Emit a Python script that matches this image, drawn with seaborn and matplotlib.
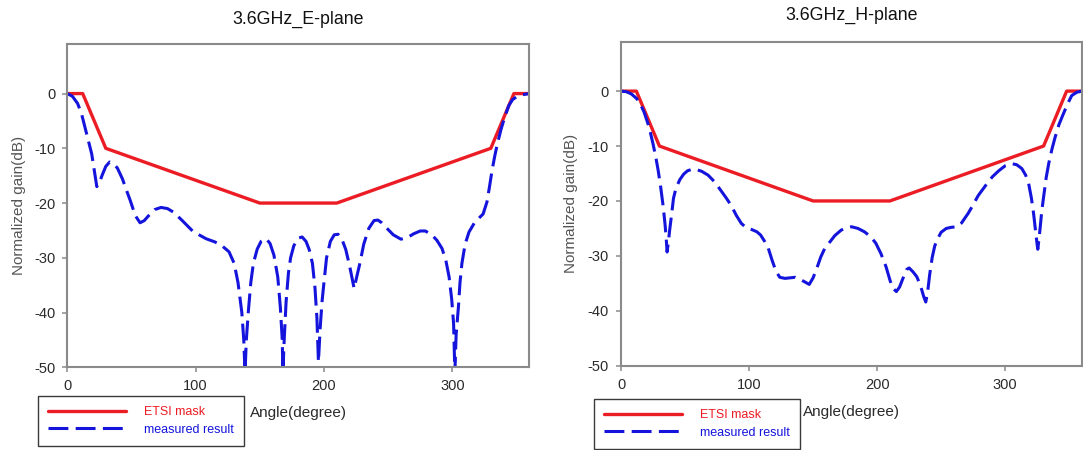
import numpy as np
import pandas as pd
import matplotlib
matplotlib.use("Agg")
import matplotlib.pyplot as plt
import seaborn as sns

# ETSI envelope (shared by both cuts)
mask_angle = [0, 12, 30, 150, 210, 330, 348, 360]
mask_gain = [0, 0, -10, -20, -20, -10, 0, 0]

# Measured E-plane pattern, 3.6 GHz
e_angle = [0, 4, 8, 11, 15, 19, 21, 23, 25, 27, 30, 33, 36, 39, 43, 46, 49, 53, 56.7, 60,
           63, 68, 73, 78, 83, 90, 98, 108, 115, 120, 126, 130, 133, 136, 137.5, 138.5, 139.5,
           141, 143, 145, 148, 151, 155, 158, 161, 164, 166, 167.5, 168, 169, 170.5, 172.3,
           174, 176.5, 180, 183, 186, 188.5, 191, 193, 194.5, 195.7, 197, 198.5, 200, 202,
           205, 208, 211, 214, 217, 220, 223.5, 225.5, 228, 231, 235, 239, 242, 245, 249,
           254, 260, 265, 270, 275, 279, 284, 288, 292, 295, 297.5, 299.5, 301, 302, 303,
           304.8, 306, 307.5, 310, 313, 317, 321, 324, 327, 329, 331, 333, 335, 338, 341,
           344, 347, 350, 355, 360]
e_gain = [0, -0.5, -1.8, -3.6, -7.3, -11, -14, -17, -16.3, -15.0, -13.3, -12.5, -12.8, -13.6,
          -15.6, -17.6, -19.5, -22.3, -23.6, -23.2, -22.4, -21.2, -20.8, -21.0, -21.7, -23.3,
          -25.2, -26.5, -27.1, -27.7, -28.9, -31.0, -34.5, -40, -45, -51, -45, -40, -34.5,
          -31, -28.4, -27.0, -26.5, -27.4, -29.5, -33.5, -39, -45, -51, -45, -38, -32.8,
          -30, -27.8, -26.4, -26.2, -27, -28.5, -31, -35.5, -41, -49, -43, -38, -34.5, -30,
          -27, -25.8, -25.7, -26.6, -28.5, -31.5, -35.6, -33.5, -31, -27.5, -24.6, -23.2,
          -23.1, -23.6, -24.6, -25.8, -26.6, -26.3, -25.6, -25.1, -25.1, -25.8, -26.8,
          -28.3, -30.5, -33.5, -37.5, -42, -51, -44, -38.9, -34.5, -31, -27.5, -25.3, -23.7,
          -22.7, -22.0, -19.8, -17, -14, -11.5, -9.3, -6.5, -4.2, -2.2, -1.1, -0.6, -0.2, 0]

# Measured H-plane pattern, 3.6 GHz
h_angle = [0, 4, 8, 12, 15, 18, 21, 23, 25, 27, 29, 31, 33, 34.5, 35.5, 36, 37, 38, 39.5, 41,
           43, 46, 49, 52, 56, 59, 63, 68, 73, 78, 82, 86, 90, 94, 98, 102, 106, 109, 112,
           115, 118, 121, 124, 128, 132, 136, 140, 144, 147, 150, 153, 156, 159, 163, 167,
           172, 176, 180, 185, 190, 195, 199, 203, 207, 210, 212, 215, 217.5, 220, 223, 225,
           228, 231, 234, 236.5, 238, 239.5, 241, 243, 245, 247, 250, 254, 258, 262.5, 266,
           268, 271, 274, 279, 285, 290, 295, 300, 305, 309, 313, 316, 318.3, 320.5, 322.2,
           323.5, 325, 325.5, 326.5, 327.4, 328.5, 330, 332, 334, 336.5, 339, 342, 345.5,
           349, 352, 356, 360]
h_gain = [0, -0.1, -0.5, -1.3, -2.3, -3.8, -5.9, -7.6, -9.6, -11.8, -14.4, -17.5, -21.1,
          -24.5, -27.5, -29.3, -27.5, -25.3, -22.5, -19.5, -17.6, -16.1, -15.1, -14.5, -14.2,
          -14.3, -14.6, -15.3, -16.5, -18.1, -19.4, -20.8, -22.6, -24.1, -24.9, -25.2, -25.6,
          -26.2, -27.3, -28.6, -30.8, -32.8, -33.9, -34.1, -34.0, -33.9, -34.3, -34.8, -35.2,
          -34, -32.2, -30.2, -28.7, -27.5, -26.3, -25.3, -24.9, -24.7, -25.0, -25.6, -26.5,
          -27.7, -29.6, -32, -34.4, -35.8, -36.5, -35.7, -34.2, -32.5, -32.2, -32.9, -33.8,
          -35.5, -37.5, -38.4, -36.5, -33.5, -30.3, -28.2, -27.0, -25.7, -25.0, -24.8, -24.7,
          -24, -23.3, -22.3, -21.1, -19, -17.1, -15.6, -14.5, -13.6, -13.2, -13.4, -14.1,
          -15.3, -16.8, -19.5, -22.3, -25, -28, -28.8, -26.7, -24.7, -22, -19.3, -15.8, -13.2,
          -10.6, -8.4, -6.1, -4.1, -2.2, -0.8, -0.2, 0]

titles = ["3.6GHz_E-plane", "3.6GHz_H-plane"]
x_ticks = [0, 100, 200, 300]
y_ticks = [0, -10, -20, -30, -40, -50]
legend_labels = ["ETSI mask", "measured result"]

RED = "#ec1c24"
BLUE = "#1414dc"
SPINE = "#8a8a8a"
TEXT = "#2a2a2a"

sns.set_style("white")
plt.rcParams["font.family"] = ["Liberation Sans", "DejaVu Sans"]
plt.rcParams["axes.unicode_minus"] = False

W, H = 1083, 450
fig = plt.figure(figsize=(W / 100, H / 100), dpi=100)

# axes boxes in pixels: left, top, right, bottom
boxes = [(67.3, 44.3, 529.3, 367.3), (621.0, 41.7, 1082.0, 365.7)]
legend_px = [(38, 396), (594, 399)]
title_px = [19, 15]
ylabel_x = [19, 571]
xlabel_y = [413, 412]

curves = [(e_angle, e_gain), (h_angle, h_gain)]

for i, (l, t, r, b) in enumerate(boxes):
    ax = fig.add_axes([l / W, 1 - b / H, (r - l) / W, (b - t) / H])
    mask_df = pd.DataFrame({"angle": mask_angle, "gain": mask_gain})
    ang, gn = curves[i]
    meas_df = pd.DataFrame({"angle": ang, "gain": gn})

    sns.lineplot(data=mask_df, x="angle", y="gain", ax=ax, color=RED, lw=2.4,
                 sort=False, estimator=None, label=legend_labels[0])
    sns.lineplot(data=meas_df, x="angle", y="gain", ax=ax, color=BLUE, lw=2.2,
                 sort=False, estimator=None, linestyle=(0, (6.5, 2.4)),
                 label=legend_labels[1])

    ax.set_xlim(0, 360)
    ax.set_ylim(-50, 9)
    ax.set_xticks(x_ticks)
    ax.set_yticks(y_ticks)
    ax.set_xticklabels([str(v) for v in x_ticks])
    ax.set_yticklabels([str(v) for v in y_ticks])
    ax.tick_params(axis="both", direction="out", length=3.6, width=1.1, color=SPINE,
                   labelsize=10.5, labelcolor=TEXT, pad=5)
    ax.tick_params(axis="x", bottom=True)
    ax.tick_params(axis="y", left=True)
    for s in ax.spines.values():
        s.set_color(SPINE)
        s.set_linewidth(1.5)

    height = b - t
    width = r - l
    ax.set_xlabel("Angle(degree)", fontsize=11, color=TEXT)
    ax.xaxis.set_label_coords(0.5, -(xlabel_y[i] - b) / height)
    ax.xaxis.label.set_va("center")
    ax.set_ylabel("Normalized gain(dB)", fontsize=11, color="#555555")
    ax.yaxis.set_label_coords((ylabel_x[i] - l) / width, 0.5)
    ax.yaxis.label.set_va("center")

    ax.text(0.5, 1 + (t - title_px[i]) / height, titles[i], transform=ax.transAxes,
            ha="center", va="center", fontsize=12.8, color="#111111")

    ax.get_legend().remove()
    handles, labels = ax.get_legend_handles_labels()
    lx, ly = legend_px[i]
    leg = ax.legend(handles, labels, loc="upper left",
                    bbox_to_anchor=(lx / W, 1 - ly / H), bbox_transform=fig.transFigure,
                    borderaxespad=0, fontsize=9, handlelength=6.2, handletextpad=1.5,
                    borderpad=0.8, labelspacing=0.45, frameon=True, fancybox=False,
                    framealpha=1, edgecolor="#3a3a3a", labelcolor="linecolor")
    leg.get_frame().set_linewidth(1.0)

fig.savefig("out.png", dpi=100)
